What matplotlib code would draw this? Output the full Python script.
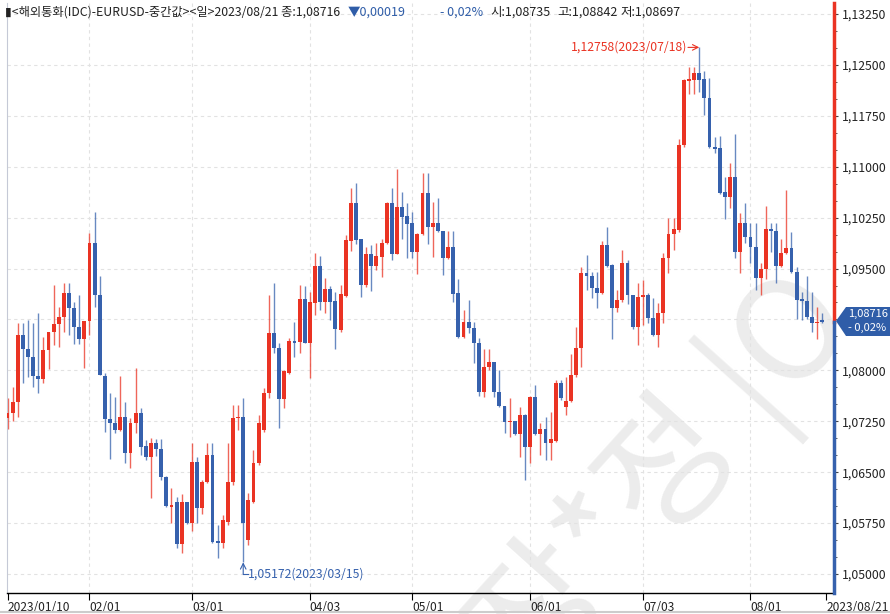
import matplotlib
matplotlib.use("Agg")
import matplotlib.pyplot as plt
from matplotlib.patches import Polygon

plt.rcParams['font.family'] = ['Noto Sans CJK KR', 'DejaVu Sans']

# EURUSD daily, 2023/01/10 .. 2023/08/21 (160 trading days)
opens = [
    1.07297, 1.07370, 1.07533, 1.08520, 1.08313, 1.08195, 1.07915, 1.07871, 1.08299, 1.08564,
    1.08682, 1.08785, 1.09138, 1.08918, 1.08638, 1.08461, 1.08726, 1.09875, 1.09109, 1.07915,
    1.07282, 1.07223, 1.07120, 1.07311, 1.06781, 1.07223, 1.07370, 1.06884, 1.06722, 1.06928,
    1.06840, 1.06427, 1.05985, 1.06059, 1.05440, 1.06059, 1.05750, 1.06648, 1.05971, 1.06354,
    1.06751, 1.05485, 1.05455, 1.05765, 1.06354, 1.07297, 1.07311, 1.05499, 1.06059, 1.06633,
    1.07120, 1.07665, 1.08549, 1.08328, 1.07577, 1.07960, 1.08431, 1.08416, 1.09050, 1.08402,
    1.08991, 1.09536, 1.09006, 1.09197, 1.09021, 1.08593, 1.09094, 1.09905, 1.10465, 1.09934,
    1.09256, 1.09713, 1.09536, 1.09669, 1.09875, 1.10465, 1.09713, 1.10406, 1.10273, 1.10170,
    1.09743, 1.10008, 1.10612, 1.10111, 1.10170, 1.10052, 1.09654, 1.09816, 1.09138, 1.08491,
    1.08711, 1.08623, 1.08402, 1.07680, 1.08048, 1.08122, 1.07680, 1.07474, 1.07238, 1.07252,
    1.07061, 1.07341, 1.06869, 1.07606, 1.07061, 1.07135, 1.06928, 1.06958, 1.07812, 1.07459,
    1.07547, 1.07930, 1.08328, 1.09433, 1.09389, 1.09212, 1.09138, 1.09846, 1.09551, 1.08918,
    1.09036, 1.09580, 1.09109, 1.08638, 1.09080, 1.09109, 1.08770, 1.08520, 1.08844, 1.09654,
    1.10008, 1.10067, 1.11319, 1.12263, 1.12277, 1.12380, 1.12292, 1.12012, 1.11290, 1.11275,
    1.10627, 1.10553, 1.10848, 1.09743, 1.10170, 1.09964, 1.09816, 1.09359, 1.09492, 1.10082,
    1.10052, 1.09536, 1.09728, 1.09801, 1.09448, 1.09050, 1.09021, 1.08785, 1.08696, 1.08735,
]
closes = [
    1.07370, 1.07533, 1.08520, 1.08313, 1.08195, 1.07915, 1.07871, 1.08299, 1.08564, 1.08682,
    1.08785, 1.09138, 1.08918, 1.08638, 1.08461, 1.08726, 1.09875, 1.09109, 1.07930, 1.07282,
    1.07223, 1.07120, 1.07311, 1.06781, 1.07223, 1.07370, 1.06869, 1.06722, 1.06928, 1.06840,
    1.06427, 1.06000, 1.06015, 1.05440, 1.06059, 1.05750, 1.06648, 1.05971, 1.06354, 1.06751,
    1.05470, 1.05455, 1.05794, 1.06354, 1.07297, 1.07311, 1.05750, 1.06089, 1.06633, 1.07223,
    1.07665, 1.08549, 1.08328, 1.07577, 1.07989, 1.08431, 1.08402, 1.09050, 1.08402, 1.09006,
    1.09536, 1.09006, 1.09197, 1.09006, 1.08608, 1.09123, 1.09919, 1.10465, 1.09919, 1.09256,
    1.09713, 1.09536, 1.09684, 1.09875, 1.10465, 1.09713, 1.10406, 1.10258, 1.10155, 1.09743,
    1.10008, 1.10612, 1.10111, 1.10170, 1.10052, 1.09654, 1.09816, 1.09123, 1.08491, 1.08711,
    1.08623, 1.08402, 1.07680, 1.08048, 1.08122, 1.07680, 1.07474, 1.07238, 1.07252, 1.07061,
    1.07341, 1.06869, 1.07606, 1.07061, 1.07135, 1.06928, 1.06987, 1.07812, 1.07591, 1.07547,
    1.07930, 1.08328, 1.09433, 1.09389, 1.09212, 1.09138, 1.09846, 1.09536, 1.08918, 1.09036,
    1.09580, 1.09109, 1.08638, 1.09080, 1.09109, 1.08770, 1.08520, 1.08844, 1.09654, 1.10008,
    1.10082, 1.11319, 1.12277, 1.12292, 1.12380, 1.12277, 1.12012, 1.11290, 1.11260, 1.10612,
    1.10553, 1.10848, 1.09743, 1.10170, 1.09964, 1.09816, 1.09359, 1.09492, 1.10082, 1.10052,
    1.09536, 1.09728, 1.09801, 1.09448, 1.09036, 1.09021, 1.08785, 1.08696, 1.08711, 1.08716,
]
highs = [
    1.07591, 1.07754, 1.08696, 1.08696, 1.08741, 1.08696, 1.08844, 1.08491, 1.08564, 1.09256,
    1.08933, 1.09286, 1.09286, 1.09006, 1.09109, 1.08726, 1.10023, 1.10332, 1.09389, 1.07960,
    1.07665, 1.07606, 1.07915, 1.07533, 1.07297, 1.08034, 1.07444, 1.06972, 1.07002, 1.06987,
    1.06987, 1.06442, 1.06265, 1.06133, 1.06177, 1.06059, 1.06928, 1.06722, 1.06383, 1.06928,
    1.06928, 1.05720, 1.05868, 1.06928, 1.07488, 1.07488, 1.07591, 1.06192, 1.06825, 1.07341,
    1.07739, 1.09109, 1.09286, 1.08402, 1.08004, 1.08476, 1.08711, 1.09256, 1.09241, 1.09153,
    1.09728, 1.09684, 1.09359, 1.09241, 1.09153, 1.09256, 1.09993, 1.10686, 1.10760, 1.09934,
    1.09816, 1.09846, 1.09875, 1.09934, 1.10480, 1.10686, 1.10966, 1.10627, 1.10465, 1.10332,
    1.10020, 1.10907, 1.10907, 1.10480, 1.10538, 1.10060, 1.10052, 1.10052, 1.09345, 1.08888,
    1.09036, 1.08711, 1.08476, 1.08313, 1.08313, 1.08130, 1.08004, 1.07480, 1.07591, 1.07260,
    1.07459, 1.07350, 1.07615, 1.07783, 1.07223, 1.07311, 1.07385, 1.07856, 1.07856, 1.07901,
    1.08240, 1.08638, 1.09521, 1.09698, 1.09448, 1.09448, 1.09905, 1.10111, 1.09560, 1.09183,
    1.09772, 1.09625, 1.09115, 1.09286, 1.09330, 1.09138, 1.09065, 1.08991, 1.09728, 1.10244,
    1.10244, 1.11408, 1.12290, 1.12469, 1.12469, 1.12758, 1.12410, 1.12307, 1.11437, 1.11452,
    1.10848, 1.11054, 1.11481, 1.10317, 1.10465, 1.10170, 1.10170, 1.09580, 1.10421, 1.10170,
    1.10170, 1.09934, 1.10656, 1.10037, 1.09521, 1.09153, 1.09389, 1.09153, 1.08933, 1.08842,
]
lows = [
    1.07135, 1.07252, 1.07311, 1.07812, 1.07901, 1.07754, 1.07665, 1.07812, 1.08019, 1.08372,
    1.08343, 1.08564, 1.08520, 1.08387, 1.08387, 1.08034, 1.08520, 1.08933, 1.07930, 1.07090,
    1.06692, 1.07076, 1.07105, 1.06633, 1.06560, 1.07076, 1.06751, 1.06678, 1.06118, 1.06737,
    1.06383, 1.05985, 1.05750, 1.05381, 1.05307, 1.05735, 1.05632, 1.05750, 1.05882, 1.06339,
    1.05455, 1.05234, 1.05381, 1.05720, 1.06310, 1.07120, 1.05172, 1.05426, 1.06044, 1.06604,
    1.07090, 1.07591, 1.08254, 1.07149, 1.07444, 1.07945, 1.08195, 1.08254, 1.08402, 1.07886,
    1.08814, 1.08888, 1.08844, 1.08741, 1.08313, 1.08564, 1.09080, 1.09757, 1.09860, 1.09080,
    1.09227, 1.09168, 1.09477, 1.09374, 1.09860, 1.09625, 1.09713, 1.09934, 1.09654, 1.09654,
    1.09418, 1.09995, 1.09860, 1.09669, 1.10037, 1.09404, 1.09640, 1.09006, 1.08480, 1.08476,
    1.08549, 1.08107, 1.07621, 1.07606, 1.08004, 1.07606, 1.07460, 1.07076, 1.07017, 1.07050,
    1.06722, 1.06383, 1.06633, 1.07050, 1.06751, 1.06678, 1.06678, 1.06950, 1.07562, 1.07341,
    1.07533, 1.07901, 1.08048, 1.09183, 1.09065, 1.08918, 1.09130, 1.09521, 1.08461, 1.08859,
    1.09006, 1.08977, 1.08608, 1.08372, 1.08667, 1.08696, 1.08510, 1.08343, 1.08696, 1.09433,
    1.09772, 1.10037, 1.11290, 1.12071, 1.12071, 1.12100, 1.11761, 1.11280, 1.11201, 1.10600,
    1.10229, 1.10391, 1.09654, 1.09433, 1.09875, 1.09580, 1.09183, 1.09109, 1.09345, 1.09743,
    1.09286, 1.09521, 1.09720, 1.09433, 1.08755, 1.08741, 1.08755, 1.08564, 1.08461, 1.08697,
]

tick_idx = [0, 16, 36, 59, 79, 102, 124, 145, 159.8]
tick_labels = ['2023/01/10', '02/01', '03/01', '04/03', '05/01', '06/01', '07/03', '08/01', '2023/08/21']
price_levels = [1.05000, 1.05750, 1.06500, 1.07250, 1.08000, 1.08750,
                1.09500, 1.10250, 1.11000, 1.11750, 1.12500, 1.13250]
last_price = 1.08716
high_idx, high_val, high_text = 135, 1.12758, '1,12758(2023/07/18)'
low_idx, low_val, low_text = 46, 1.05172, '1,05172(2023/03/15)'

RED = '#ea3323'
BLUE = '#3661ad'
W, H = 890, 614

fig = plt.figure(figsize=(W / 100, H / 100), dpi=100)
fig.patch.set_facecolor('white')
ax = fig.add_axes([7 / W, 1 - 593 / H, 827 / W, 590 / H])
ax.patch.set_facecolor('none')
ax.set_xlim(-0.1, 161.3)
ax.set_ylim(1.0472, 1.13412)

# grid
for lv in price_levels:
    ax.axhline(lv, color='#e2e2e2', lw=0.8, ls=(0, (3, 3)), zorder=0)
for ti in tick_idx[1:-1]:
    ax.axvline(ti, color='#e2e2e2', lw=0.8, ls=(0, (3, 3)), zorder=0)

# watermark (behind the axes)
fig.text(530 / W, 1 - 690 / H, '장*정 |O', fontsize=100, color='#ececec',
         rotation=48, rotation_mode='anchor', ha='left', va='baseline', zorder=-1)

# candles
for i in range(len(opens)):
    o, c, h, l = opens[i], closes[i], highs[i], lows[i]
    col = RED if c >= o else BLUE
    ax.vlines(i, l, h, color=col, lw=1.0, alpha=0.75, zorder=2)
    body = max(abs(c - o), 0.00018)
    ax.bar(i, body, bottom=min(o, c), width=0.76, color=col, lw=0, zorder=3)

# high / low markers
ax.annotate('', xy=(high_idx, high_val), xytext=(132.8, high_val),
            arrowprops=dict(arrowstyle='->', color=RED, lw=0.8, shrinkA=0, shrinkB=0))
ax.text(132.7, high_val, high_text, color=RED, fontsize=8.8, ha='right', va='center')
ax.annotate('', xy=(low_idx, low_val), xytext=(low_idx, 1.04995),
            arrowprops=dict(arrowstyle='->', color=BLUE, lw=0.8, shrinkA=0, shrinkB=0))
ax.plot([low_idx, low_idx + 0.9], [1.04995, 1.04995], color=BLUE, lw=0.8)
ax.text(low_idx + 1.0, 1.04995, low_text, color=BLUE, fontsize=8.8, ha='left', va='center')

# axes styling
for s in ['top', 'right']:
    ax.spines[s].set_visible(False)
ax.spines['left'].set_color('#c5c9d6')
ax.spines['bottom'].set_color('black')
ax.spines['bottom'].set_linewidth(1.0)

y0, y1 = ax.get_ylim()
frac = (last_price - y0) / (y1 - y0)
ax.plot([1, 1], [frac, 1], transform=ax.transAxes, color=RED, lw=2.5, clip_on=False, zorder=5)
ax.plot([1, 1], [0, frac], transform=ax.transAxes, color=BLUE, lw=2.5, clip_on=False, zorder=5)

ax.yaxis.tick_right()
shown = [lv for lv in price_levels if abs(lv - 1.0875) > 1e-6]
ax.set_yticks(shown)
ax.set_yticklabels([f'{v:.5f}'.replace('.', ',') for v in shown])
ax.set_yticks([1.05 + 0.0025 * k for k in range(34)], minor=True)
ax.tick_params(axis='y', which='both', direction='out', length=3, color='#444444',
               labelsize=8.8, labelcolor='#222222', pad=3)
ax.tick_params(axis='y', which='minor', length=2)

ax.set_xticks(tick_idx)
ax.set_xticklabels(tick_labels, ha='left')
ax.tick_params(axis='x', direction='out', length=5, color='black', labelsize=8.6,
               labelcolor='#222222', pad=1)

# last price tag
yt = 1 - 321 / H
tag = Polygon([(836 / W, yt), (846 / W, 1 - 307 / H), (890 / W, 1 - 307 / H),
               (890 / W, 1 - 336 / H), (846 / W, 1 - 336 / H)],
              closed=True, transform=fig.transFigure, facecolor='#2f5da8', edgecolor='none', zorder=10)
fig.patches.append(tag)
fig.text(848 / W, 1 - 314 / H, '1,08716', color='white', fontsize=8.0, va='center', zorder=11)
fig.text(848 / W, 1 - 328 / H, '- 0,02%', color='white', fontsize=8.0, va='center', zorder=11)

# header
header = [
    (5, '▮<해외통화(IDC)-EURUSD-중간값><일>2023/08/21 종:1,08716', '#222222', 8.8),
    (348, '▼0,00019', '#2f5da8', 9.0),
    (440, '- 0,02%', '#2f5da8', 9.0),
    (490, '시:1,08735', '#222222', 9.0),
    (557, '고:1,08842', '#222222', 9.0),
    (620, '저:1,08697', '#222222', 9.0),
]
for hx, txt, col, fs in header:
    fig.text(hx / W, 1 - 12 / H, txt, fontsize=fs, color=col, va='center')

# bottom border
fig.add_artist(plt.Line2D([0, 1], [1 - 612 / H, 1 - 612 / H], color='#cccccc', lw=1.5))

fig.savefig('out.png', dpi=100)
